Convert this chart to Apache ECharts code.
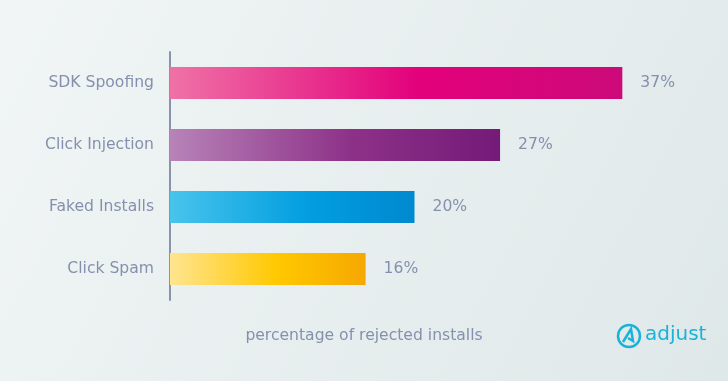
<!DOCTYPE html>
<html><head><meta charset="utf-8">
<script src="https://cdn.jsdelivr.net/npm/echarts@6/dist/echarts.min.js"></script>
<style>html,body{margin:0;padding:0;}#c{width:728px;height:381px;}</style>
</head><body><div id="c"></div>
<script>
var categories = ['SDK Spoofing', 'Click Injection', 'Faked Installs', 'Click Spam'];
var values = [37, 27, 20, 16];
var colorStops = [
  ['#ef72a6', '#e3007b', '#cc0a79'],
  ['#b783b8', '#8d3188', '#741a78'],
  ['#48c4ec', '#039fe0', '#0089cf'],
  ['#ffe590', '#ffc800', '#f6a800']
];
function grad(c){return new echarts.graphic.LinearGradient(0,0,1,0,[{offset:0,color:c[0]},{offset:0.55,color:c[1]},{offset:1,color:c[2]}]);}
var chart = echarts.init(document.getElementById('c'));
var font = '"DejaVu Sans", sans-serif';
var txt = '#8590ad';
chart.setOption({
  backgroundColor: new echarts.graphic.LinearGradient(0,0,1,1,[{offset:0,color:'#f1f5f5'},{offset:1,color:'#dfe8e9'}]),
  animation:false,
  grid:{left:170, top:52, width:489, height:248},
  xAxis:{type:'value', min:0, max:40, show:false},
  yAxis:{type:'category', data:categories, inverse:true,
    axisLine:{lineStyle:{color:'#8a93ad', width:2}}, axisTick:{show:false},
    axisLabel:{color:txt, fontSize:15.6, margin:16, fontFamily:font}},
  series:[{type:'bar', barWidth:32,
    data: values.map(function(v,i){return {value:v, itemStyle:{color:grad(colorStops[i])}};}),
    label:{show:true, position:'right', distance:18, formatter:'{c}%', color:txt, fontSize:15.6, fontFamily:font}
  }],
  graphic:[
    {type:'text', left:'center', top:328, style:{text:'percentage of rejected installs', fill:txt, font:'15.6px '+font}},
    {type:'circle', shape:{cx:629, cy:336, r:11}, style:{fill:'none', stroke:'#1ab3d8', lineWidth:2.5}},
    {type:'polyline', shape:{points:[[623,342],[631,329],[633,341],[628,338]]}, style:{fill:'none', stroke:'#1ab3d8', lineWidth:2.5}},
    {type:'text', left:645, top:325, style:{text:'adjust', fill:'#1ab3d8', font:'20px '+font}}
  ]
});
</script></body></html>
